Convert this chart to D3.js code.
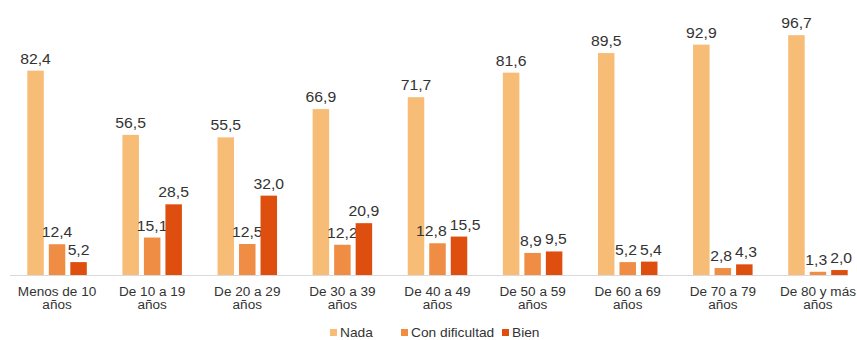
<!DOCTYPE html>
<html><head><meta charset="utf-8">
<script src="https://cdn.jsdelivr.net/npm/d3@7"></script>
<style>body{margin:0;background:#fff}svg{display:block}text{font-family:"Liberation Sans",Arial,sans-serif}</style>
</head><body><svg id="c" width="857" height="340"></svg>
<script>
const categories = ["Menos de 10 años","De 10 a 19 años","De 20 a 29 años","De 30 a 39 años","De 40 a 49 años","De 50 a 59 años","De 60 a 69 años","De 70 a 79 años","De 80 y más años"];
const catLine1 = ["Menos de 10","De 10 a 19","De 20 a 29","De 30 a 39","De 40 a 49","De 50 a 59","De 60 a 69","De 70 a 79","De 80 y más"];
const catLine2 = ["años","años","años","años","años","años","años","años","años"];
const seriesNames = ["Nada","Con dificultad","Bien"];
const nada = [82.4,56.5,55.5,66.9,71.7,81.6,89.5,92.9,96.7];
const conDificultad = [12.4,15.1,12.5,12.2,12.8,8.9,5.2,2.8,1.3];
const bien = [5.2,28.5,32.0,20.9,15.5,9.5,5.4,4.3,2.0];
const colors = ["#f7bd76","#f08d45","#de4f0f"];

const series = [nada, conDificultad, bien];
const svg = d3.select("#c");
const x = d3.scaleBand().domain(categories).range([9.5,865.5]).padding(0);
const y = d3.scaleLinear().domain([0,100]).range([275,27]);
const barW = 16.5, gap = 21.5, fs = 15, sx = 1.05;
const fmt = v => d3.format(".1f")(v).replace(".", ",");

// baseline
svg.append("line").attr("x1",10).attr("x2",848).attr("y1",y(0)+0.5).attr("y2",y(0)+0.5)
  .attr("stroke","#d9d9d9").attr("stroke-width",1);

const labels = [[],[],[]];
series.forEach((vals,si)=>{
  const g = svg.append("g");
  const cx = (d,i)=> x(categories[i]) + x.bandwidth()/2 + (si-1)*gap;
  g.selectAll("rect").data(vals).join("rect")
    .attr("x",(d,i)=>cx(d,i)-barW/2).attr("width",barW)
    .attr("y",d=>y(d)).attr("height",d=>y(0)-y(d))
    .attr("fill",colors[si]);
  g.selectAll("text").data(vals).join("text")
    .attr("text-anchor","middle").attr("font-size",fs).attr("fill","#333")
    .text(d=>fmt(d))
    .each(function(d,i){
      const t = d3.select(this);
      const w = this.getComputedTextLength()*sx;
      labels[si][i] = {t, x: cx(d,i), y: y(d)-7, w};
    });
});
// separate overlapping labels of "Con dificultad" and "Bien"
for (let i=0;i<categories.length;i++){
  const a = labels[1][i], b = labels[2][i];
  const hOver = (a.x + a.w/2 + 3) - (b.x - b.w/2);
  const vOver = Math.abs(a.y - b.y) < fs*0.75;
  if (hOver > 0 && vOver){ a.x -= hOver/2; b.x += hOver/2; }
}
labels.forEach(arr=>arr.forEach(l=>l.t.attr("transform",`translate(${l.x},${l.y}) scale(${sx},1)`)));

// x labels
const xl = svg.append("g");
categories.forEach((c,i)=>{
  const cx = x(c)+x.bandwidth()/2;
  xl.append("text").attr("transform",`translate(${cx},296) scale(1.13,1)`)
    .attr("text-anchor","middle").attr("font-size",12).attr("fill","#333").text(catLine1[i]);
  xl.append("text").attr("transform",`translate(${cx},308.5) scale(1.13,1)`)
    .attr("text-anchor","middle").attr("font-size",12).attr("fill","#333").text(catLine2[i]);
});

// legend
const legX = [330, 401, 502];
const lg = svg.append("g");
seriesNames.forEach((n,i)=>{
  lg.append("rect").attr("x",legX[i]).attr("y",329).attr("width",7).attr("height",7).attr("fill",colors[i]);
  lg.append("text").attr("transform",`translate(${legX[i]+10},337) scale(1.1,1)`)
    .attr("font-size",12.5).attr("fill","#333").text(n);
});
</script></body></html>
